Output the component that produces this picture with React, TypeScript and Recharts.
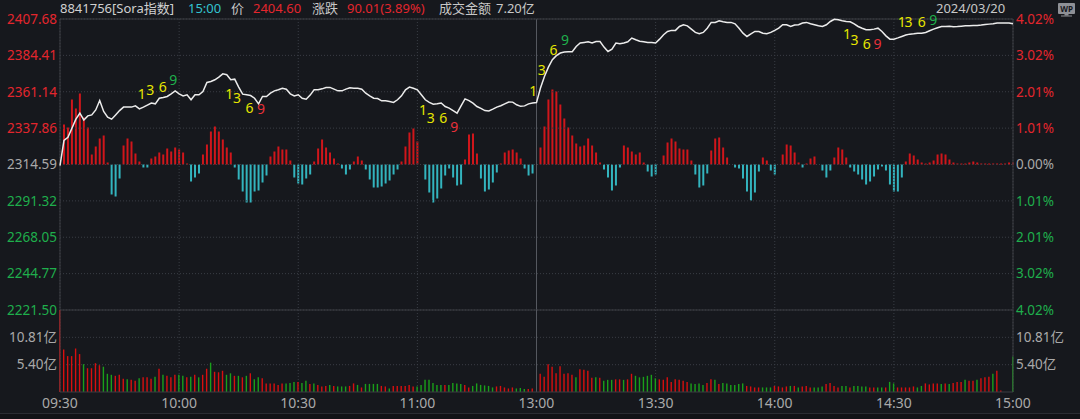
import React from "react";
import {
  ComposedChart,
  Line,
  Bar,
  Cell,
  Scatter,
  XAxis,
  YAxis,
  CartesianGrid,
  ReferenceLine,
} from "recharts";

const PREV_CLOSE = 2314.59;

const priceTicks = [2221.5, 2244.77, 2268.05, 2291.32, 2314.59, 2337.86, 2361.14, 2384.41, 2407.68];
const volTicks = [5.4, 10.81];
const timeTicks = [0, 30, 60, 90, 120, 150, 180, 210, 240];
const timeLabels = ["09:30", "10:00", "10:30", "11:00", "13:00", "13:30", "14:00", "14:30", "15:00"];

// one value per minute, 09:30 .. 11:30 / 13:00 .. 15:00 (241 slots)
const price = [
  2313.8, 2330.0, 2332.0, 2337.8, 2343.6, 2347.4, 2343.1, 2345.7, 2346.3, 2349.5,
  2355.5, 2348.5, 2344.9, 2343.6, 2346.3, 2349.1, 2351.3, 2351.3, 2351.3, 2352.1,
  2350.2, 2351.3, 2352.6, 2353.9, 2353.4, 2357.0, 2357.5, 2358.1, 2359.8, 2361.7,
  2359.8, 2358.5, 2359.2, 2356.0, 2359.2, 2359.2, 2361.3, 2367.1, 2367.7, 2368.8,
  2370.5, 2372.6, 2372.0, 2368.8, 2369.2, 2364.1, 2359.6, 2359.2, 2358.7, 2357.0,
  2353.4, 2358.1, 2358.1, 2360.2, 2361.7, 2362.4, 2363.4, 2362.8, 2359.8, 2358.5,
  2359.2, 2357.0, 2356.4, 2359.0, 2362.4, 2362.4, 2363.0, 2363.9, 2363.9, 2362.8,
  2361.7, 2361.7, 2362.8, 2363.7, 2363.4, 2363.4, 2362.8, 2360.2, 2358.5, 2357.0,
  2356.8, 2355.3, 2355.3, 2354.9, 2354.3, 2356.0, 2358.5, 2362.4, 2364.1, 2363.4,
  2362.4, 2359.2, 2356.0, 2354.3, 2353.2, 2353.4, 2353.9, 2351.7, 2350.7, 2349.1,
  2347.4, 2352.1, 2356.6, 2355.5, 2353.8, 2351.7, 2350.5, 2349.1, 2348.9, 2350.0,
  2351.3, 2352.2, 2353.4, 2354.6, 2354.5, 2352.8, 2351.8, 2352.1, 2353.4, 2354.0,
  2354.2, 2363.5, 2370.9, 2376.9, 2381.6, 2384.2, 2385.9, 2386.5, 2386.7, 2386.7,
  2390.1, 2392.3, 2392.7, 2393.1, 2392.3, 2393.3, 2393.3, 2389.7, 2386.9, 2388.4,
  2392.3, 2391.8, 2392.3, 2393.1, 2395.5, 2394.4, 2393.5, 2393.1, 2392.7, 2392.7,
  2392.3, 2394.8, 2397.6, 2399.7, 2400.4, 2400.4, 2402.9, 2404.0, 2403.3, 2401.2,
  2399.1, 2398.2, 2399.1, 2401.8, 2405.5, 2405.5, 2406.6, 2405.9, 2405.5, 2405.5,
  2404.6, 2401.8, 2398.6, 2396.5, 2398.2, 2399.7, 2399.7, 2398.6, 2398.2, 2399.1,
  2400.4, 2401.8, 2404.0, 2404.0, 2402.9, 2403.8, 2404.0, 2405.1, 2405.5, 2404.6,
  2404.0, 2403.3, 2402.9, 2404.0, 2406.1, 2407.5, 2407.2, 2406.6, 2406.1, 2405.9,
  2404.6, 2402.9, 2401.8, 2400.8, 2400.8, 2401.2, 2401.8, 2399.7, 2396.9, 2394.8,
  2394.8, 2395.6, 2396.5, 2397.4, 2398.0, 2398.2, 2398.6, 2398.6, 2399.1, 2400.2,
  2401.2, 2402.1, 2402.9, 2402.9, 2403.0, 2402.8, 2402.9, 2403.1, 2403.3, 2403.3,
  2403.5, 2403.5, 2403.8, 2404.2, 2404.4, 2404.6, 2405.1, 2405.1, 2405.1, 2405.1,
  2404.6,
];

// red / cyan bars around the previous close
const flow = [
  0, 40, 37, 65, 56, 71, 47, 37, 10, 18,
  26, 29, 2, -30, -32, -14, 19, 26, 23, 11,
  3, -3, -3, 6, 8, 12, 10, 16, 13, 17,
  15, 12, 1, -17, -13, -9, 10, 20, 33, 38,
  33, 25, 17, 12, -3, -15, -27, -38, -38, -27,
  -26, -18, -11, 8, 13, 18, 15, 15, 4, -13,
  -19, -20, -14, -10, 3, 16, 25, 17, 12, 6,
  1, -4, -10, -5, 3, 8, 4, -5, -15, -23,
  -23, -22, -19, -16, -10, -5, 3, 18, 32, 36,
  23, 0, -15, -28, -38, -34, -24, -11, -4, -13,
  -21, -20, 5, 30, 31, 11, -14, -27, -25, -18,
  -8, 1, 12, 14, 15, 12, 6, -4, -11, -9,
  0, 17, 38, 65, 75, 73, 60, 46, 37, 29,
  21, 18, 19, 26, 19, 12, 2, -5, -13, -26,
  -21, -3, 19, 17, 13, 10, 12, 2, -7, -12,
  -10, 0, 9, 22, 26, 23, 16, 15, 15, 4,
  -10, -23, -21, -9, 14, 26, 27, 17, 7, 0,
  -3, -4, -14, -27, -36, -28, -7, 7, 4, -6,
  -10, 0, 10, 20, 19, 12, 2, -3, 1, 6,
  8, 0, -6, -13, -6, 7, 17, 15, 7, -3,
  -7, -10, -15, -20, -17, -12, -5, -2, -6, -20,
  -27, -27, -13, 3, 11, 9, 5, 2, 1, 2,
  4, 10, 11, 10, 5, 2, 1, 1, 1, 2,
  3, 2, 1, 1, 1, 1, 1, 1, 1, 2,
  2,
];

// turnover per minute, 亿
const volume = [
  16.2, 8.4, 7.1, 7.1, 8.6, 7.5, 5.5, 4.7, 4.7, 5.7,
  5.3, 5.0, 3.6, 3.4, 3.2, 3.4, 2.6, 2.5, 2.4, 2.2,
  2.7, 2.9, 2.9, 2.6, 3.0, 4.6, 3.4, 3.2, 2.9, 3.4,
  3.4, 3.2, 2.9, 3.0, 3.4, 2.9, 3.4, 4.6, 5.8, 4.0,
  3.9, 4.2, 3.4, 3.7, 3.2, 3.2, 2.9, 3.2, 3.7, 2.5,
  2.9, 2.7, 1.7, 1.7, 1.7, 1.4, 1.7, 1.7, 1.8, 2.0,
  2.0, 1.8, 2.2, 1.6, 1.7, 1.4, 1.1, 1.2, 1.4, 1.2,
  1.1, 1.1, 1.1, 1.2, 1.7, 1.4, 0.9, 1.6, 1.6, 1.6,
  1.6, 1.2, 1.1, 0.7, 1.2, 1.2, 1.2, 1.2, 1.4, 1.1,
  1.1, 1.4, 2.4, 2.4, 1.8, 1.4, 1.4, 1.4, 1.4, 1.8,
  1.7, 1.6, 1.4, 0.9, 1.2, 1.7, 1.4, 1.3, 1.2, 0.9,
  1.1, 1.2, 0.9, 0.7, 0.9, 0.7, 0.8, 0.6, 0.6, 0.7,
  0, 3.6, 3.0, 5.5, 5.0, 3.7, 5.1, 3.6, 3.7, 3.4,
  2.9, 4.5, 4.4, 4.2, 2.8, 2.9, 2.8, 2.2, 2.4, 2.4,
  2.5, 2.5, 2.4, 2.5, 3.6, 3.2, 2.9, 3.0, 3.2, 3.4,
  2.7, 2.5, 2.4, 2.9, 2.0, 2.5, 2.4, 2.2, 2.0, 1.7,
  1.6, 1.7, 1.4, 1.8, 2.5, 2.4, 1.6, 1.8, 1.7, 1.4,
  1.4, 1.6, 1.7, 1.2, 1.1, 0.9, 0.9, 0.9, 0.9, 0.9,
  1.2, 1.1, 0.9, 1.1, 1.2, 1.2, 0.9, 1.1, 1.2, 0.9,
  0.9, 0.9, 1.1, 1.6, 1.8, 1.2, 0.9, 1.2, 1.2, 0.9,
  1.2, 1.2, 1.1, 1.1, 0.9, 0.9, 0.9, 0.9, 0.9, 2.0,
  1.7, 0.9, 0.9, 0.9, 0.9, 1.1, 0.9, 1.2, 1.7, 1.5,
  1.7, 1.7, 1.6, 1.7, 1.6, 1.8, 2.0, 2.0, 2.4, 2.2,
  2.2, 2.4, 2.7, 2.9, 3.0, 3.6, 4.2, 0.3, 0, 0,
  7.0,
];

// 1 = up minute (red), 0 = down minute (green)
const volUp = [
  1, 1, 1, 1, 1, 1, 0, 1, 1, 1,
  1, 0, 0, 0, 1, 1, 1, 0, 1, 1,
  0, 1, 1, 1, 0, 1, 0, 1, 1, 1,
  0, 0, 1, 0, 1, 0, 1, 1, 0, 1,
  1, 1, 0, 0, 1, 0, 1, 0, 1, 0,
  0, 1, 1, 1, 1, 1, 1, 0, 0, 0,
  1, 0, 0, 1, 0, 1, 1, 1, 0, 1,
  0, 0, 0, 1, 1, 0, 1, 0, 0, 0,
  0, 1, 1, 0, 1, 1, 1, 1, 1, 1,
  0, 0, 0, 0, 0, 0, 0, 1, 0, 0,
  0, 0, 1, 1, 0, 0, 0, 0, 0, 0,
  1, 1, 1, 1, 1, 0, 0, 0, 1, 1,
  1, 1, 1, 1, 1, 1, 1, 1, 1, 1,
  0, 1, 1, 1, 1, 0, 1, 0, 0, 0,
  1, 1, 0, 1, 1, 0, 0, 0, 0, 0,
  0, 1, 1, 1, 1, 1, 1, 1, 1, 0,
  0, 0, 0, 1, 1, 0, 1, 0, 0, 0,
  0, 0, 0, 1, 1, 1, 1, 0, 0, 0,
  1, 1, 1, 1, 0, 1, 0, 1, 1, 1,
  0, 0, 0, 1, 1, 1, 1, 0, 0, 1,
  0, 0, 0, 0, 1, 1, 0, 0, 1, 0,
  0, 1, 1, 1, 1, 1, 0, 0, 1, 1,
  1, 1, 0, 1, 0, 1, 1, 1, 0, 1,
  1, 0, 1, 1, 1, 0, 1, 1, 1, 1,
  0,
];

// 1-3-6-9 signal labels (minute, price, text, kind)
const marks = [
  { m: 20.6, p: 2359.8, t: "1", k: "y" },
  { m: 22.7, p: 2362.8, t: "3", k: "y" },
  { m: 25.9, p: 2364.5, t: "6", k: "y" },
  { m: 28.5, p: 2369.2, t: "9", k: "g" },
  { m: 42.6, p: 2360.3, t: "1", k: "y" },
  { m: 44.6, p: 2357.4, t: "3", k: "y" },
  { m: 47.7, p: 2351.0, t: "6", k: "y" },
  { m: 50.6, p: 2350.6, t: "9", k: "r" },
  { m: 91.4, p: 2349.6, t: "1", k: "y" },
  { m: 93.4, p: 2344.9, t: "3", k: "y" },
  { m: 96.5, p: 2344.9, t: "6", k: "y" },
  { m: 99.3, p: 2338.9, t: "9", k: "r" },
  { m: 119.2, p: 2361.9, t: "1", k: "y" },
  { m: 121.3, p: 2375.2, t: "3", k: "y" },
  { m: 124.3, p: 2388.0, t: "6", k: "y" },
  { m: 127.2, p: 2394.8, t: "9", k: "g" },
  { m: 198.2, p: 2398.2, t: "1", k: "y" },
  { m: 200.1, p: 2394.8, t: "3", k: "y" },
  { m: 203.2, p: 2392.3, t: "6", k: "y" },
  { m: 205.9, p: 2392.3, t: "9", k: "r" },
  { m: 212.0, p: 2406.1, t: "1", k: "y" },
  { m: 213.7, p: 2406.1, t: "3", k: "y" },
  { m: 217.0, p: 2406.1, t: "6", k: "y" },
  { m: 219.9, p: 2407.6, t: "9", k: "g" },
];

const FONT = '"Noto Sans", "Noto Sans CJK SC", sans-serif';
const BG = "#16181d";
const RED = "#e3262d";
const GREEN = "#1fae4c";
const GREY = "#a9a9a9";
const FRAME = "#3a3c43";
const GRID = "#3a3d45";
const MARK_COLORS: Record<string, string> = { y: "#e6e600", g: "#1fb04c", r: "#e8303a" };

const rows = price.map((p, i) => ({ m: i, price: p, flow: flow[i] }));
const volRows = volume.map((v, i) => ({ m: i, vol: v }));

const last = price[price.length - 1];
const change = last - PREV_CLOSE;
const changePct = (change / PREV_CLOSE) * 100;

function priceColor(v: number) {
  if (v > PREV_CLOSE + 0.001) return RED;
  if (v < PREV_CLOSE - 0.001) return GREEN;
  return GREY;
}

const LeftPriceTick = (props: any) => {
  const { x, y, payload } = props;
  return (
    <text x={x} y={y} dy={4.8} textAnchor="end" fill={priceColor(payload.value)} fontSize={13.5} fontFamily={FONT}>
      {payload.value.toFixed(2)}
    </text>
  );
};

const RightPctTick = (props: any) => {
  const { x, y, payload } = props;
  const pct = Math.abs(((payload.value - PREV_CLOSE) / PREV_CLOSE) * 100);
  return (
    <text x={x} y={y} dy={4.8} textAnchor="start" fill={priceColor(payload.value)} fontSize={13.5} fontFamily={FONT}>
      {pct.toFixed(2) + "%"}
    </text>
  );
};

const VolTick = (anchor: "start" | "end") => (props: any) => {
  const { x, y, payload } = props;
  return (
    <text x={x} y={y} dy={4.8} textAnchor={anchor} fill={GREY} fontSize={13.5} fontFamily={FONT}>
      {payload.value.toFixed(2) + "亿"}
    </text>
  );
};

const TimeTick = (props: any) => {
  const { x, y, payload } = props;
  const idx = timeTicks.indexOf(payload.value);
  return (
    <text x={x} y={y} dy={15.5} textAnchor="middle" fill={GREY} fontSize={14} fontFamily={FONT}>
      {timeLabels[idx]}
    </text>
  );
};

const MarkText = (props: any) => {
  const { cx, cy, payload } = props;
  return (
    <text
      x={cx}
      y={cy}
      textAnchor="middle"
      dominantBaseline="central"
      fill={MARK_COLORS[payload.k]}
      fontSize={14}
      fontFamily={FONT}
    >
      {payload.t}
    </text>
  );
};

const layer: React.CSSProperties = { position: "absolute", left: 0, top: 0 };

export default function App() {
  return (
    <div style={{ position: "relative", width: 1080, height: 419, background: BG, overflow: "hidden" }}>
      <style>{`body{margin:0;background:${BG};}`}</style>

      {/* flow bars, same plot box as the price panel */}
      <div style={layer}>
        <ComposedChart width={1080} height={419} data={rows} margin={{ top: 19, right: 67, bottom: 109, left: 60 }}>
          <XAxis dataKey="m" type="number" domain={[0, 240]} hide />
          <YAxis yAxisId="flow" hide domain={[-145.5, 145.5]} />
          <Bar yAxisId="flow" dataKey="flow" barSize={2} isAnimationActive={false}>
            {rows.map((r, i) => (
              <Cell key={i} fill={r.flow >= 0 ? "#d0161b" : "#33b4be"} />
            ))}
          </Bar>
        </ComposedChart>
      </div>

      {/* price panel */}
      <div style={layer}>
        <ComposedChart width={1080} height={419} data={rows} margin={{ top: 19, right: 0, bottom: 109, left: 0 }}>
          <CartesianGrid
            yAxisId="price"
            stroke={GRID}
            strokeDasharray="1 2"
            horizontalValues={priceTicks}
            verticalValues={timeTicks}
          />
          <XAxis dataKey="m" type="number" domain={[0, 240]} ticks={timeTicks} hide />
          <YAxis
            yAxisId="price"
            domain={[priceTicks[0], priceTicks[priceTicks.length - 1]]}
            ticks={priceTicks}
            interval={0}
            width={60}
            axisLine={false}
            tickLine={false}
            tickSize={0}
            tickMargin={3}
            tick={LeftPriceTick}
          />
          <YAxis
            yAxisId="pct"
            orientation="right"
            domain={[priceTicks[0], priceTicks[priceTicks.length - 1]]}
            allowDataOverflow
            ticks={priceTicks}
            interval={0}
            width={67}
            axisLine={false}
            tickLine={false}
            tickSize={0}
            tickMargin={3}
            tick={RightPctTick}
          />
          <ReferenceLine yAxisId="price" x={120} stroke="#55585f" />
          <ReferenceLine yAxisId="price" x={0} stroke={FRAME} />
          <ReferenceLine yAxisId="price" x={240} stroke={FRAME} />
          <ReferenceLine yAxisId="price" y={priceTicks[priceTicks.length - 1]} stroke={FRAME} />
          <ReferenceLine yAxisId="price" y={priceTicks[0]} stroke={FRAME} />
          <Line
            yAxisId="price"
            dataKey="price"
            stroke="#ececec"
            strokeWidth={1.5}
            dot={false}
            activeDot={false}
            isAnimationActive={false}
          />
          <Scatter yAxisId="price" data={marks} dataKey="p" shape={MarkText} isAnimationActive={false} />
        </ComposedChart>
      </div>

      {/* turnover panel */}
      <div style={layer}>
        <ComposedChart width={1080} height={419} data={volRows} margin={{ top: 310, right: 0, bottom: 0, left: 0 }}>
          <CartesianGrid
            yAxisId="vol"
            stroke={GRID}
            strokeDasharray="1 2"
            horizontalValues={volTicks}
            verticalValues={timeTicks}
          />
          <XAxis
            dataKey="m"
            type="number"
            domain={[0, 240]}
            ticks={timeTicks}
            interval={0}
            height={27}
            axisLine={false}
            tickLine={false}
            tickSize={0}
            tickMargin={0}
            tick={TimeTick}
          />
          <YAxis
            yAxisId="vol"
            domain={[0, 16.215]}
            ticks={volTicks}
            interval={0}
            width={60}
            axisLine={false}
            tickLine={false}
            tickSize={0}
            tickMargin={3}
            tick={VolTick("end")}
          />
          <YAxis
            yAxisId="volR"
            orientation="right"
            domain={[0, 16.215]}
            allowDataOverflow
            ticks={volTicks}
            interval={0}
            width={67}
            axisLine={false}
            tickLine={false}
            tickSize={0}
            tickMargin={3}
            tick={VolTick("start")}
          />
          <ReferenceLine yAxisId="vol" x={120} stroke="#55585f" />
          <ReferenceLine yAxisId="vol" x={0} stroke={FRAME} />
          <ReferenceLine yAxisId="vol" x={240} stroke={FRAME} />
          <ReferenceLine yAxisId="vol" y={0} stroke={FRAME} />
          <Bar yAxisId="vol" dataKey="vol" barSize={1.4} isAnimationActive={false}>
            {volRows.map((r, i) => (
              <Cell key={i} fill={volUp[i] ? "#d80f0f" : "#1aa01a"} />
            ))}
          </Bar>
        </ComposedChart>
      </div>

      {/* header */}
      <svg width={1080} height={419} style={{ ...layer, pointerEvents: "none" }}>
        <g fontFamily={FONT} fontSize={13}>
          <text x={60} y={13} fill="#d0d0d0">8841756[Sora指数]</text>
          <text x={188} y={13} fill="#33c3d0">15:00</text>
          <text x={231} y={13} fill="#c8c8c8">价</text>
          <text x={253} y={13} fill={RED}>{last.toFixed(2)}</text>
          <text x={312} y={13} fill="#c8c8c8">涨跌</text>
          <text x={347} y={13} fill={RED}>{`${change.toFixed(2)}(${changePct.toFixed(2)}%)`}</text>
          <text x={439} y={13} fill="#c8c8c8">成交金额</text>
          <text x={496} y={13} fill="#c8c8c8">7.20亿</text>
          <text x={936} y={13} fill="#c8c8c8">2024/03/20</text>
        </g>
        <rect x={1058} y={3} width={17} height={11} rx={1} fill="#8e9096" />
        <text x={1066.5} y={11.5} textAnchor="middle" fontSize={8} fontWeight="bold" fontFamily={FONT} fill={BG}>
          WP
        </text>
        <rect x={1064.5} y={14} width={4} height={1.5} fill="#8e9096" />
        <rect x={1061} y={15.5} width={11} height={1} fill="#8e9096" />
        <line x1={0} y1={413.5} x2={1080} y2={413.5} stroke="#2a2c32" />
        <rect x={0} y={414} width={1080} height={5} fill="#111216" />
      </svg>
    </div>
  );
}
